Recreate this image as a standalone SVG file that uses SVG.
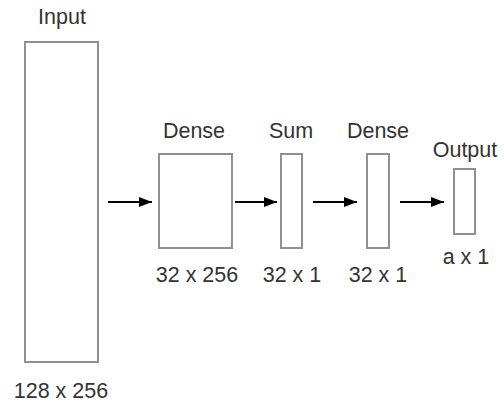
<svg xmlns="http://www.w3.org/2000/svg" width="504" height="407" viewBox="0 0 504 407">
<defs>
<marker id="ah" viewBox="0 0 13 10" refX="13" refY="5" markerWidth="6.5" markerHeight="5" orient="auto" markerUnits="strokeWidth">
<path d="M0,0 L13,5 L0,10 z" fill="#000"/>
</marker>
<style>
.box{fill:#fff;stroke:#8e9194;stroke-width:2}
.lbl{font-family:"Liberation Sans",Arial,sans-serif;font-size:21.5px;fill:#333;text-anchor:middle}
.arr{stroke:#000;stroke-width:2;fill:none;marker-end:url(#ah)}
</style>
</defs>
<rect width="504" height="407" fill="#fff"/>
<g id="input">
<text class="lbl" x="62" y="24">Input</text>
<rect class="box" x="25" y="42" width="73" height="320"/>
<text class="lbl" x="61" y="398">128 x 256</text>
</g>
<g id="dense1">
<text class="lbl" x="194" y="138">Dense</text>
<rect class="box" x="159" y="154" width="73" height="94"/>
<text class="lbl" x="197" y="282">32 x 256</text>
</g>
<g id="sum">
<text class="lbl" x="291" y="138">Sum</text>
<rect class="box" x="281" y="154" width="21" height="94"/>
<text class="lbl" x="292" y="282">32 x 1</text>
</g>
<g id="dense2">
<text class="lbl" x="378" y="138">Dense</text>
<rect class="box" x="367" y="154" width="22" height="94"/>
<text class="lbl" x="378" y="282">32 x 1</text>
</g>
<g id="output">
<text class="lbl" x="465" y="157">Output</text>
<rect class="box" x="454" y="169" width="21" height="65"/>
<text class="lbl" x="466" y="264">a x 1</text>
</g>
<g id="connectors">
<line class="arr" x1="108" y1="202" x2="152" y2="202"/>
<line class="arr" x1="235" y1="202" x2="277" y2="202"/>
<line class="arr" x1="313" y1="202" x2="357" y2="202"/>
<line class="arr" x1="400" y1="202" x2="444" y2="202"/>
</g>
</svg>
